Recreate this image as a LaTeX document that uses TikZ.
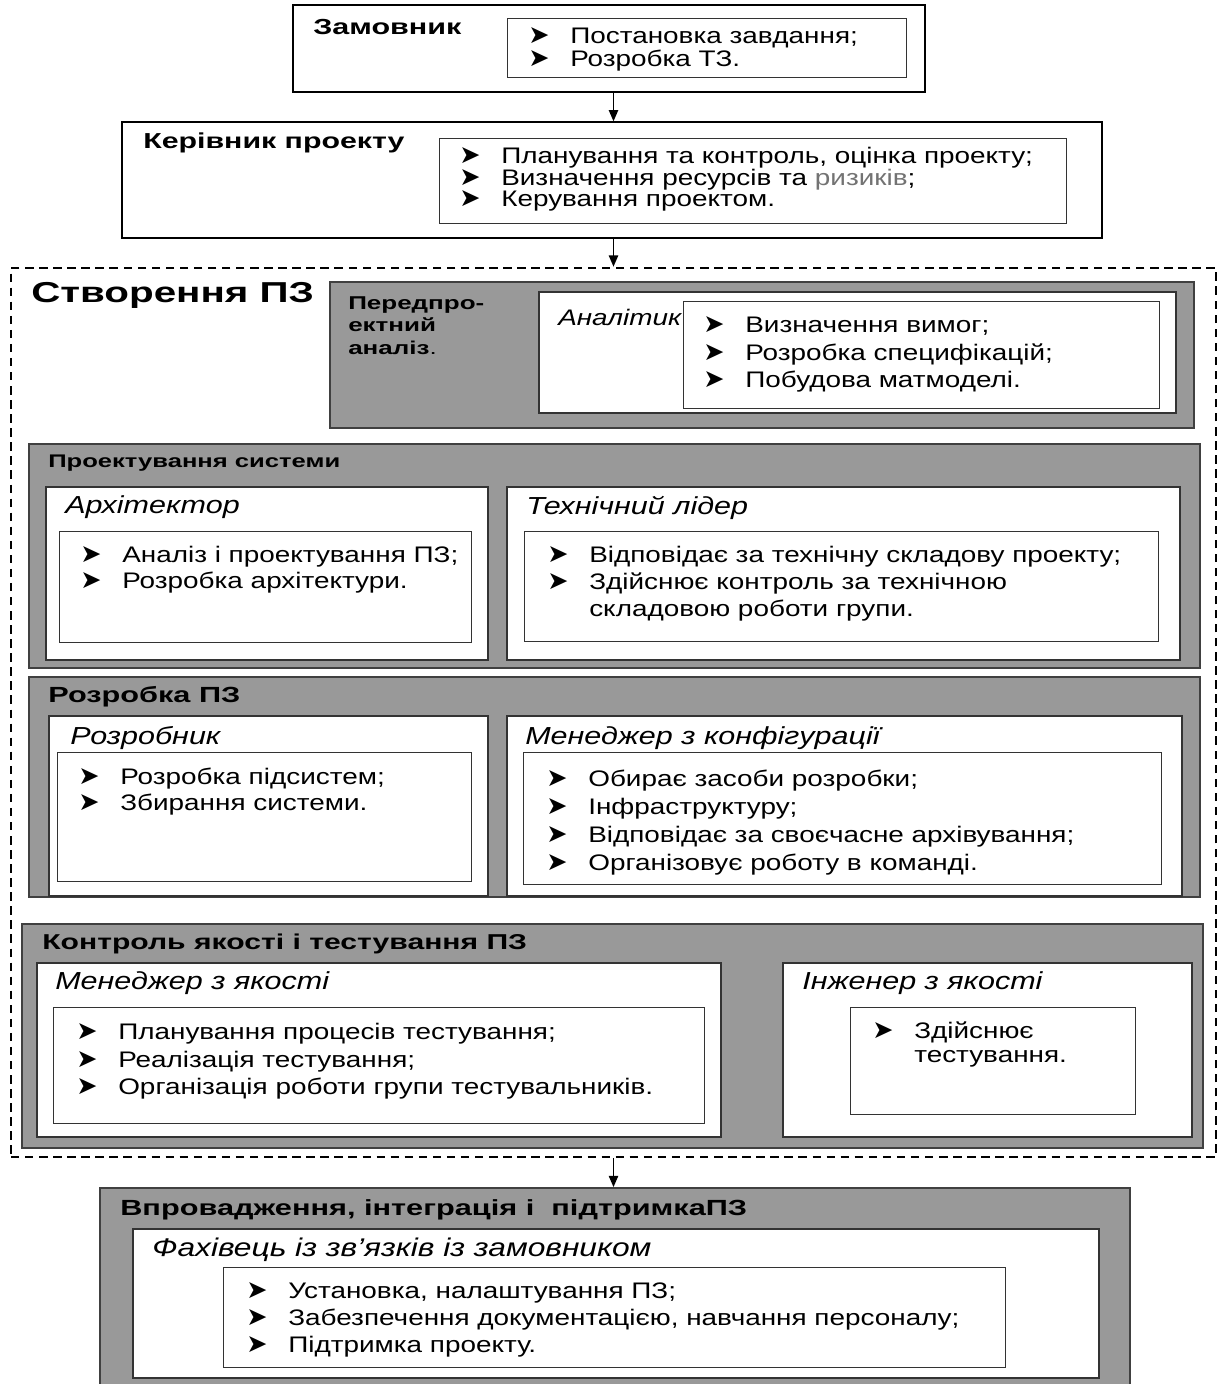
\documentclass[tikz,border=0pt]{standalone}
\usepackage{fontspec}
\setmainfont{Liberation Sans}[FakeStretch=1.24]
\newfontfamily\widefont{Liberation Sans}[FakeStretch=1.4]
\newfontfamily\symfont{DejaVu Sans}
\usetikzlibrary{arrows.meta, fit}
\newcommand\itm{\makebox[1.05cm][l]{\raisebox{0pt}[0pt][0pt]{\symfont\fontsize{18}{18}\selectfont ➤}}}
\newcommand\gap{\hspace*{1.05cm}}
\tikzset{
  outerbox/.style={
    rectangle,
    draw,
    line width=0.9pt,
    fill=white,
    inner sep=0pt
  },
  graybox/.style={
    rectangle,
    draw=black!75,
    line width=1.2pt,
    fill=black!40,
    inner sep=0pt
  },
  whitebox/.style={
    rectangle,
    draw=black!80,
    line width=0.9pt,
    fill=white,
    inner sep=0pt
  },
  listbox/.style={
    rectangle,
    draw=black!80,
    line width=0.6pt,
    fill=white,
    inner sep=0pt
  },
  stage/.style={
    rectangle,
    draw,
    dash pattern=on 6pt off 4pt,
    line width=1.8pt,
    inner sep=0pt
  },
  head/.style={font=\widefont\bfseries\fontsize{#1}{#1}\selectfont, anchor=west, inner sep=0pt},
  role/.style={font=\itshape\fontsize{#1}{20}\selectfont, anchor=west, inner sep=0pt},
  role/.default=17.5,
  items/.style={font=\fontsize{16}{#1}\selectfont, align=left, anchor=north west, inner sep=0pt},
  arrow/.style={-{Triangle[length=8pt,width=6.5pt]}, line width=1.3pt}
}

\begin{document}
\begin{tikzpicture}[x=0.025cm,y=-0.025cm]
\useasboundingbox (0,0) rectangle (1219,1384);

% customer and project manager
\node[outerbox, fit={(293,5) (925,92)}] (client) {};
\node[listbox, fit={(507,18) (906,77)}] (clientlist) {};
\node[head=15.5] (clienthead) at (313,27) {Замовник};
\node[items=14.5pt] (clienttext) at (528,28) {\itm Постановка завдання;\\\itm Розробка ТЗ.};

\node[outerbox, fit={(122,122) (1102,238)}] (manager) {};
\node[listbox, fit={(439,138) (1066,223)}] (managerlist) {};
\node[head=15.4] (managerhead) at (143,143) {Керівник проекту};
\node[items=14.5pt] (managertext) at (459,147) {\itm Планування та контроль, оцінка проекту;\\\itm Визначення ресурсів та {\color{black!55}ризиків};\\\itm Керування проектом.};

% software creation
\node[stage, fit={(11,268) (1216,1157)}] (create) {};
\node[head=20.5] (createhead) at (31,295) {Створення ПЗ};

\node[graybox, fit={(330,282) (1194,428)}] (preproj) {};
\node[head=13.2, anchor=north west, align=left, font=\widefont\bfseries\fontsize{13.2}{16}\selectfont] (preprojhead) at (348,296) {Передпро-\\ектний\\аналіз{\mdseries .}};
\node[whitebox, fit={(539,292) (1176,413)}] (analyst) {};
\node[listbox, fit={(683,301) (1159,408)}] (analystlist) {};
\node[role=16] (analysthead) at (558,317) {Аналітик};
\node[items=19.5pt] (analysttext) at (703,317) {\itm Визначення вимог;\\\itm Розробка специфікацій;\\\itm Побудова матмоделі.};

\node[graybox, fit={(29,444) (1200,668)}] (design) {};
\node[head=13] (designhead) at (48,463) {Проектування системи};
\node[whitebox, fit={(46,487) (488,660)}] (arch) {};
\node[listbox, fit={(59,531) (471,642)}] (archlist) {};
\node[role] (archhead) at (65,507) {Архітектор};
\node[items=18.5pt] (archtext) at (80,546) {\itm Аналіз і проектування ПЗ;\\\itm Розробка архітектури.};
\node[whitebox, fit={(507,487) (1180,660)}] (lead) {};
\node[listbox, fit={(524,531) (1158,641)}] (leadlist) {};
\node[role] (leadhead) at (526,508) {Технічний лідер};
\node[items=19pt] (leadtext) at (547,546) {\itm Відповідає за технічну складову проекту;\\\itm Здійснює контроль за технічною\\\gap складовою роботи групи.};

\node[graybox, fit={(29,677) (1200,897)}] (coding) {};
\node[head=15.6] (codinghead) at (48,697) {Розробка ПЗ};
\node[whitebox, fit={(49,716) (488,896)}] (dev) {};
\node[listbox, fit={(57,752) (471,881)}] (devlist) {};
\node[role] (devhead) at (70,738) {Розробник};
\node[items=18.5pt] (devtext) at (78,768) {\itm Розробка підсистем;\\\itm Збирання системи.};
\node[whitebox, fit={(507,716) (1182,896)}] (config) {};
\node[listbox, fit={(523,752) (1161,884)}] (configlist) {};
\node[role] (confighead) at (525,738) {Менеджер з конфігурації};
\node[items=19.9pt] (configtext) at (546,770) {\itm Обирає засоби розробки;\\\itm Інфраструктуру;\\\itm Відповідає за своєчасне архівування;\\\itm Організовує роботу в команді.};

\node[graybox, fit={(22,924) (1203,1148)}] (quality) {};
\node[head=15.3] (qualityhead) at (42,944) {Контроль якості і тестування ПЗ};
\node[whitebox, fit={(37,963) (721,1137)}] (qamgr) {};
\node[listbox, fit={(53,1007) (704,1123)}] (qamgrlist) {};
\node[role] (qamgrhead) at (55,983) {Менеджер з якості};
\node[items=19.5pt] (qamgrtext) at (76,1023) {\itm Планування процесів тестування;\\\itm Реалізація тестування;\\\itm Організація роботи групи тестувальників.};
\node[whitebox, fit={(783,963) (1192,1137)}] (qaeng) {};
\node[listbox, fit={(850,1007) (1135,1114)}] (qaenglist) {};
\node[role] (qaenghead) at (802,983) {Інженер з якості};
\node[items=17pt] (qaengtext) at (872,1022) {\itm Здійснює\\\gap тестування.};

% deployment
\node[graybox, fit={(100,1188) (1130,1395)}] (deploy) {};
\node[head=15.6] (deployhead) at (120,1210) {Впровадження, інтеграція і\ \ підтримкаПЗ};
\node[whitebox, fit={(133,1229) (1099,1378)}] (liaison) {};
\node[listbox, fit={(223,1267) (1005,1367)}] (liaisonlist) {};
\node[role=18.2] (liaisonhead) at (152,1250) {Фахівець із зв’язків із замовником};
\node[items=19.2pt] (liaisontext) at (246,1283) {\itm Установка, налаштування ПЗ;\\\itm Забезпечення документацією, навчання персоналу;\\\itm Підтримка проекту.};

\draw[arrow] (client.south -| create.north) -- (manager.north -| create.north);
\draw[arrow] (manager.south -| create.north) -- (create.north);
\draw[arrow] (create.south) -- (create.south |- deploy.north);
\end{tikzpicture}
\end{document}
